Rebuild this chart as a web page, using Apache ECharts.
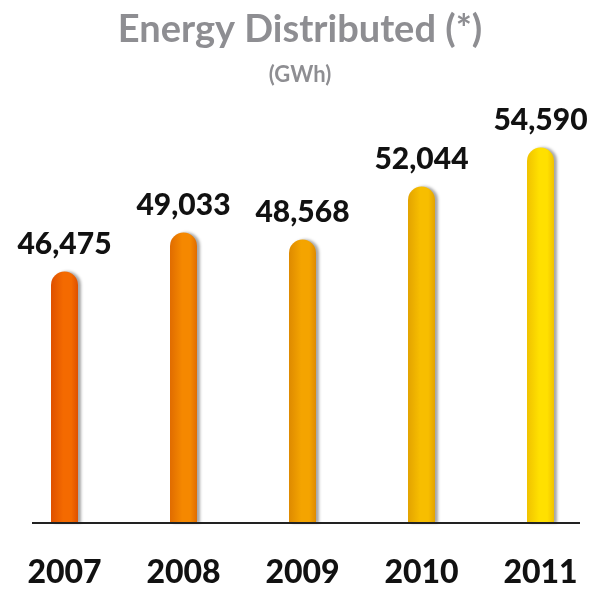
<!DOCTYPE html>
<html><head><meta charset="utf-8">
<script src="https://cdn.jsdelivr.net/npm/echarts@6/dist/echarts.min.js"></script>
<style>html,body{margin:0;padding:0;background:#fff}#c{width:600px;height:591px}</style>
</head><body><div id="c"></div>
<script>
var years = ['2007','2008','2009','2010','2011'];
var energy = [46475, 49033, 48568, 52044, 54590];
var mainColors = ['#f46a00','#f58800','#f4a400','#f7be00','#ffe000'];
var edgeColors = ['#de5000','#e06c00','#de8a00','#e3a300','#f0c200'];

var chart = echarts.init(document.getElementById('c'));
var FONT = 'Lato';
var data = energy.map(function(v, i){
  return {
    value: v,
    itemStyle: {
      color: new echarts.graphic.LinearGradient(0,0,1,0,[
        {offset:0, color: edgeColors[i]},
        {offset:0.45, color: mainColors[i]},
        {offset:0.75, color: mainColors[i]},
        {offset:1, color: edgeColors[i]}
      ])
    }
  };
});
chart.setOption({
  animation: false,
  title: [{
    text: 'Energy Distributed (*)', left: 'center', top: 6,
    textStyle: {fontFamily: FONT, fontWeight: 'bold', fontSize: 38, color: '#8e8e92'}
  },{
    text: '(GWh)', left: 'center', top: 59,
    textStyle: {fontFamily: FONT, fontWeight: 'bold', fontSize: 22, color: '#8e8e92'}
  }],
  grid: {left: 5, width: 602, top: 65, bottom: 68},
  xAxis: {
    type: 'category', data: years,
    axisLine: {show: false}, axisTick: {show: false},
    axisLabel: {fontFamily: FONT, fontWeight: 900, fontSize: 32, color: '#111', margin: 34}
  },
  yAxis: {
    type: 'value', min: 30000, max: 60000,
    show: false, splitLine: {show: false}
  },
  series: [{
    type: 'bar', data: data, barWidth: 27,
    itemStyle: {borderRadius: [14,14,0,0], shadowColor: 'rgba(0,0,0,0.35)', shadowOffsetX: 3, shadowOffsetY: 0, shadowBlur: 3},
    label: {
      show: true, position: 'top', distance: 12,
      fontFamily: FONT, fontWeight: 900, fontSize: 30, color: '#111',
      formatter: function(p){ return p.value.toLocaleString('en-US'); }
    }
  }]
});
var y0 = chart.convertToPixel({yAxisIndex: 0}, 30000);
chart.setOption({
  graphic: [{type: 'line', shape: {x1: 32, y1: y0, x2: 580, y2: y0}, style: {stroke: '#222', lineWidth: 2}, z: 10}]
});
</script></body></html>
